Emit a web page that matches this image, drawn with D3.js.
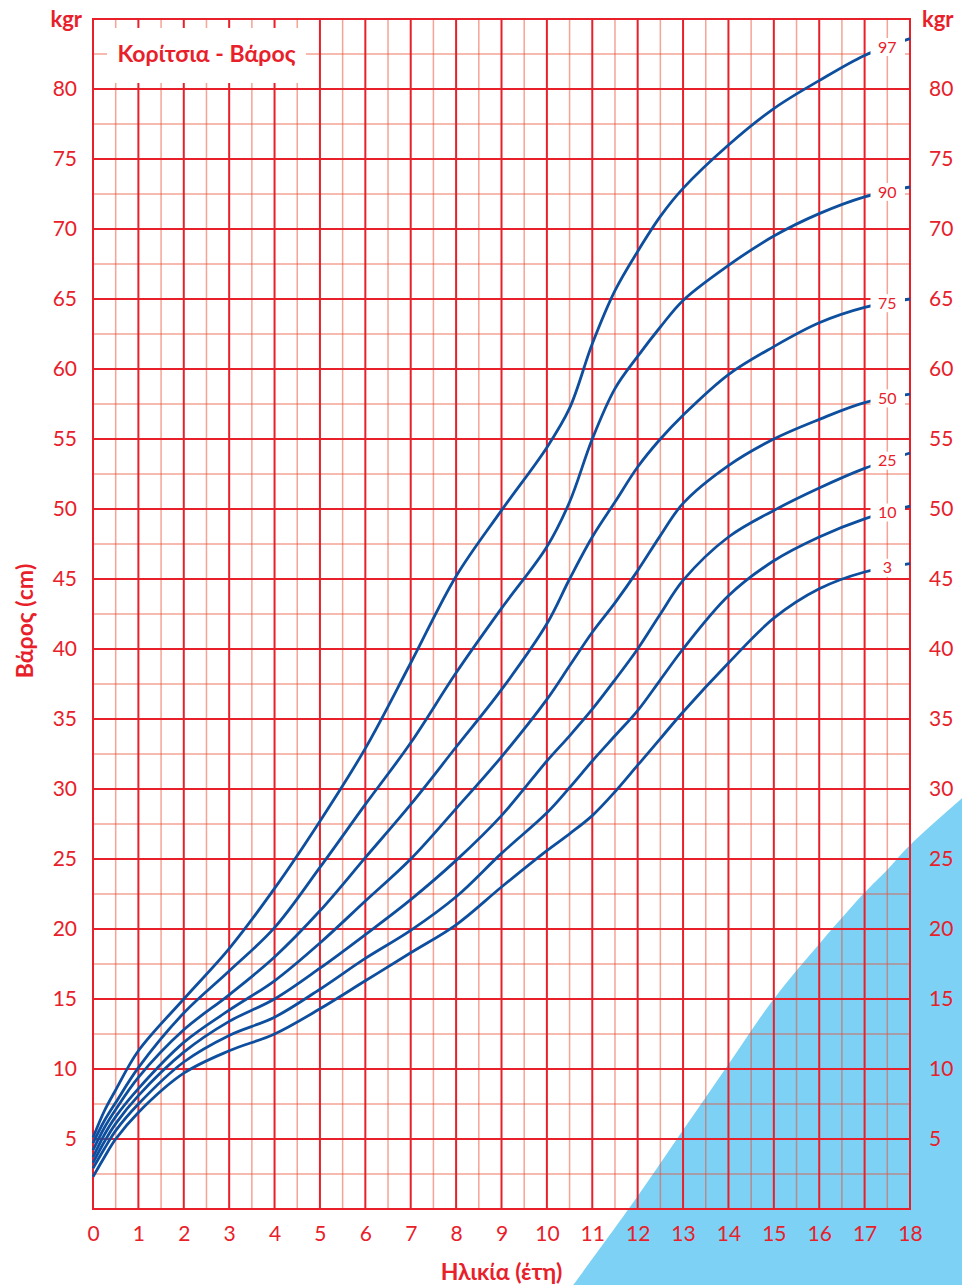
<!DOCTYPE html>
<html>
<head>
<meta charset="utf-8">
<script src="https://cdn.jsdelivr.net/npm/d3@7"></script>
<style>
  body { margin: 0; background: #fff; }
  svg { display: block; font-family: Lato, "Open Sans", sans-serif; }
</style>
</head>
<body>
<script>
// ages (years) where the percentile curves were read
var ages = [0, 0.25, 0.5, 1, 2, 3, 4, 5, 6, 7, 8, 9, 10, 10.5, 11, 11.5, 12, 12.5, 13, 14, 15, 16, 17, 18];

var p3  = [2.3, 3.7, 5.0, 6.9, 9.7, 11.3, 12.5, 14.3, 16.3, 18.3, 20.3, 23.0, 25.6, 26.8, 28.1, 29.8, 31.7, 33.6, 35.5, 39.0, 42.2, 44.3, 45.5, 46.1];
var p10 = [2.9, 4.3, 5.6, 7.5, 10.5, 12.4, 13.7, 15.7, 17.9, 19.9, 22.3, 25.4, 28.3, 30.1, 32.0, 33.8, 35.6, 37.8, 40.0, 43.8, 46.3, 48.0, 49.3, 50.2];
var p25 = [3.3, 4.8, 6.1, 8.1, 11.2, 13.4, 15.0, 17.2, 19.6, 22.1, 24.9, 28.1, 32.0, 33.8, 35.7, 37.8, 40.0, 42.5, 44.9, 48.0, 49.9, 51.5, 52.9, 54.0];
var p50 = [3.7, 5.3, 6.6, 8.6, 11.9, 14.2, 16.3, 19.0, 22.0, 25.0, 28.6, 32.3, 36.4, 38.8, 41.2, 43.3, 45.6, 48.1, 50.4, 53.1, 55.0, 56.4, 57.6, 58.2];
var p75 = [4.2, 5.8, 7.1, 9.4, 12.8, 15.3, 18.0, 21.3, 25.1, 28.9, 33.0, 37.1, 41.8, 45.0, 48.0, 50.5, 53.0, 55.0, 56.7, 59.6, 61.6, 63.3, 64.4, 65.0];
var p90 = [4.7, 6.3, 7.6, 10.1, 14.0, 17.0, 20.1, 24.4, 28.9, 33.3, 38.3, 42.9, 47.3, 50.5, 55.0, 58.6, 60.9, 63.0, 64.9, 67.4, 69.5, 71.1, 72.3, 73.0];
var p97 = [5.1, 7.0, 8.5, 11.3, 15.0, 18.6, 22.9, 27.7, 32.9, 39.0, 45.2, 49.9, 54.4, 57.2, 61.8, 65.6, 68.4, 70.9, 72.9, 76.0, 78.6, 80.6, 82.4, 83.6];

var seriesNames = ["3", "10", "25", "50", "75", "90", "97"];
var seriesValues = [p3, p10, p25, p50, p75, p90, p97];

var xTicks = d3.range(0, 19, 1);
var yTicks = d3.range(5, 81, 5);

// edge of the light blue decoration (age, kg)
var bgEdgeAge = [10.58, 11.94, 13.0, 13.99, 14.98, 16.02, 17.0, 17.49, 18.0, 19.15];
var bgEdgeKg  = [-5.43, 0.64, 5.64, 10.29, 14.93, 19.0, 22.6, 24.2, 26.0, 29.36];

var RED = "#e8202a", MINOR = "#ec4a2c", BLUE = "#0d4f9e";

var W = 962, H = 1285;
var svg = d3.select("body").append("svg").attr("width", W).attr("height", H);

var x = d3.scaleLinear().domain([0, 18]).range([93, 910]);
var y = d3.scaleLinear().domain([0, 85]).range([1209, 19]);

// blue background shape
var edge = bgEdgeAge.map(function (a, i) { return [a, bgEdgeKg[i]]; });
var area = d3.line().x(function (d) { return x(d[0]); }).y(function (d) { return y(d[1]); }).curve(d3.curveCatmullRom);
var last = edge[edge.length - 1];
svg.append("path")
  .attr("d", area(edge) + "L" + x(last[0]) + "," + y(edge[0][1]) + "Z")
  .attr("fill", "#7dd1f5");

// grid
var grid = svg.append("g");
grid.selectAll("line.vmin")
  .data(d3.range(0.5, 18, 1))
  .enter().append("line")
    .attr("x1", function (d) { return x(d); }).attr("x2", function (d) { return x(d); })
    .attr("y1", y(0)).attr("y2", y(85))
    .attr("stroke", MINOR).attr("stroke-opacity", 0.5).attr("stroke-width", 1.5);
grid.selectAll("line.hmin")
  .data(d3.range(2.5, 85, 5))
  .enter().append("line")
    .attr("y1", function (d) { return y(d); }).attr("y2", function (d) { return y(d); })
    .attr("x1", x(0)).attr("x2", x(18))
    .attr("stroke", MINOR).attr("stroke-opacity", 0.5).attr("stroke-width", 1.5);
grid.selectAll("line.vmaj")
  .data(xTicks)
  .enter().append("line")
    .attr("x1", function (d) { return x(d); }).attr("x2", function (d) { return x(d); })
    .attr("y1", y(0) + 1).attr("y2", y(85) - 1)
    .attr("stroke", RED).attr("stroke-width", 2);
grid.selectAll("line.hmaj")
  .data(d3.range(0, 86, 5))
  .enter().append("line")
    .attr("y1", function (d) { return y(d); }).attr("y2", function (d) { return y(d); })
    .attr("x1", x(0) - 1).attr("x2", x(18) + 1)
    .attr("stroke", RED).attr("stroke-width", 2);

// title box
svg.append("rect")
  .attr("x", x(0.31)).attr("y", y(84.36))
  .attr("width", x(4.69) - x(0.31)).attr("height", y(80.43) - y(84.36))
  .attr("fill", "#fff");
svg.append("text")
  .attr("x", x(2.5)).attr("y", y(82.5)).attr("dy", "0.35em")
  .attr("text-anchor", "middle").attr("fill", RED)
  .attr("font-size", 23).attr("font-weight", "bold")
  .text("Κορίτσια - Βάρος");

// percentile curves
var line = d3.line()
  .x(function (d) { return x(d[0]); })
  .y(function (d) { return y(d[1]); })
  .curve(d3.curveCatmullRom.alpha(0.5));

svg.selectAll("path.curve")
  .data(seriesValues)
  .enter().append("path")
    .attr("class", "curve")
    .attr("d", function (vals) { return line(ages.map(function (a, i) { return [a, vals[i]]; })); })
    .attr("fill", "none")
    .attr("stroke", BLUE)
    .attr("stroke-width", 2.8);

// percentile labels
var lab = svg.selectAll("g.lab")
  .data(seriesValues)
  .enter().append("g")
    .attr("class", "lab")
    .attr("transform", function (vals) {
      var v = (vals[ages.indexOf(17)] + vals[ages.indexOf(18)]) / 2;
      return "translate(" + x(17.5) + "," + y(v) + ")";
    });
lab.append("rect")
  .attr("x", x(17.13) - x(17.5)).attr("y", -9)
  .attr("width", x(17.89) - x(17.13)).attr("height", 18)
  .attr("fill", "#fff");
lab.append("text")
  .attr("text-anchor", "middle").attr("dy", "0.35em")
  .attr("fill", RED).attr("font-size", 16)
  .text(function (d, i) { return seriesNames[i]; });

// axes
function styleAxis(g) {
  g.select(".domain").remove();
  g.selectAll("text").attr("fill", RED).attr("font-size", 21).attr("font-family", "Lato, sans-serif");
}
svg.append("g")
  .attr("transform", "translate(" + x(0) + ",0)")
  .call(d3.axisLeft(y).tickValues(yTicks).tickSize(0).tickPadding(16))
  .call(styleAxis);
svg.append("g")
  .attr("transform", "translate(" + x(18) + ",0)")
  .call(d3.axisRight(y).tickValues(yTicks).tickSize(0).tickPadding(19))
  .call(styleAxis);
svg.append("g")
  .attr("transform", "translate(0," + y(0) + ")")
  .call(d3.axisBottom(x).tickValues(xTicks).tickSize(0).tickPadding(17))
  .call(styleAxis);

// unit and axis titles
svg.append("text").attr("x", 82).attr("y", 27).attr("text-anchor", "end")
  .attr("fill", RED).attr("font-size", 22).attr("font-weight", "bold").text("kgr");
svg.append("text").attr("x", 922).attr("y", 27)
  .attr("fill", RED).attr("font-size", 22).attr("font-weight", "bold").text("kgr");
svg.append("text").attr("x", x(9)).attr("y", 1280).attr("text-anchor", "middle")
  .attr("fill", RED).attr("font-size", 23).attr("font-weight", "bold").text("Ηλικία (έτη)");
svg.append("text")
  .attr("transform", "translate(33," + y(42) + ") rotate(-90)")
  .attr("text-anchor", "middle")
  .attr("fill", RED).attr("font-size", 23).attr("font-weight", "bold").text("Βάρος (cm)");
</script>
</body>
</html>
